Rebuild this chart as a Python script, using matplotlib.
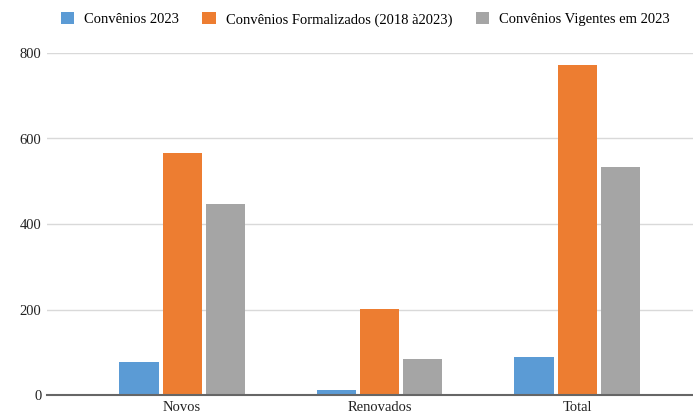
import matplotlib
matplotlib.use("Agg")
import matplotlib.pyplot as plt
import numpy as np

categories = ["Novos", "Renovados", "Total"]
series_names = ["Convênios 2023", "Convênios Formalizados (2018 à2023)", "Convênios Vigentes em 2023"]
conv_2023 = [77, 12, 89]
conv_formalizados = [566, 201, 772]
conv_vigentes = [447, 84, 533]
colors = ["#5b9bd5", "#ed7d31", "#a5a5a5"]
yticks = [0, 200, 400, 600, 800]

plt.rcParams['font.family'] = ['Liberation Serif', 'DejaVu Serif']

fig = plt.figure(figsize=(6.93, 4.15), dpi=100)
ax = fig.add_axes([47/693, 20/415, 1 - 47/693, (395-53)/415])

x = np.arange(len(categories))
width = 0.198
step = 0.218
series = [conv_2023, conv_formalizados, conv_vigentes]
handles = []
for i, (vals, name, c) in enumerate(zip(series, series_names, colors)):
    b = ax.bar(x + (i - 1) * step, vals, width, color=c, label=name, zorder=3)
    handles.append(b)

ax.set_xlim(-0.684, 2.587)
ax.set_ylim(0, 800)
ax.set_yticks(yticks)
ax.set_yticklabels([str(t) for t in yticks], fontsize=10.5, color="#222222")
ax.set_xticks(x)
ax.set_xticklabels(categories, fontsize=10.5, color="#222222")
ax.tick_params(axis='x', length=0, pad=4.5)
ax.tick_params(axis='y', length=0, pad=4)
ax.grid(axis='y', color="#d9d9d9", linewidth=1, zorder=0)
for s in ["top", "right", "left"]:
    ax.spines[s].set_visible(False)
ax.spines["bottom"].set_color("#666666")
ax.spines["bottom"].set_linewidth(1.5)
ax.spines["bottom"].set_zorder(4)

leg = fig.legend(handles=handles, labels=series_names, loc="center", bbox_to_anchor=(0.527, 0.953),
                 ncol=3, frameon=False, fontsize=10.5, handlelength=0.9, handleheight=0.9,
                 handletextpad=0.7, columnspacing=1.6)

fig.savefig("out.png", dpi=100)
